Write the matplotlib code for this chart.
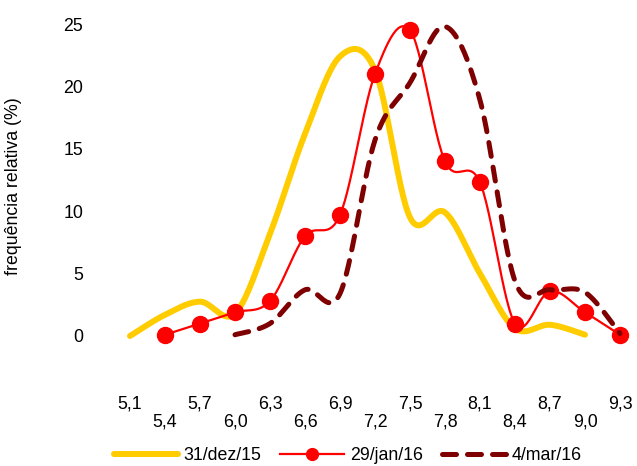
import numpy as np
import matplotlib
matplotlib.use("Agg")
import matplotlib.pyplot as plt
from matplotlib.lines import Line2D

plt.rcParams['font.family'] = ['Liberation Sans', 'DejaVu Sans']

categorias = ['5,1', '5,4', '5,7', '6,0', '6,3', '6,6', '6,9', '7,2',
              '7,5', '7,8', '8,1', '8,4', '8,7', '9,0', '9,3']
dez15 = [0.0, 1.7, 2.75, 1.8, 8.2, 16.2, 22.4, 21.3, 9.5, 9.9, 5.0, 0.6, 0.9, 0.1, None]
jan16 = [None, 0.1, 1.0, 1.9, 2.8, 8.0, 9.7, 21.0, 24.5, 14.0, 12.3, 1.0, 3.6, 1.9, 0.1]
mar16 = [None, None, None, 0.1, 1.0, 3.7, 3.4, 15.7, 20.3, 24.8, 18.9, 4.4, 3.7, 3.5, 0.2]
nomes = ['31/dez/15', '29/jan/16', '4/mar/16']

FS = 12.8


def suaviza(ys, n=30):
    # curva suavizada tipo Excel (Bezier / Catmull-Rom) pelos pontos
    pts = [(i, y) for i, y in enumerate(ys) if y is not None]
    p = np.array(pts, dtype=float)
    xs_out, ys_out = [], []
    for i in range(len(p) - 1):
        p0 = p[i - 1] if i > 0 else p[i]
        p1 = p[i]
        p2 = p[i + 1]
        p3 = p[i + 2] if i + 2 < len(p) else p[i + 1]
        c1 = p1 + (p2 - p0) / 6.
        c2 = p2 - (p3 - p1) / 6.
        t = np.linspace(0, 1, n)[:, None]
        b = ((1 - t) ** 3) * p1 + 3 * ((1 - t) ** 2) * t * c1 + 3 * (1 - t) * t ** 2 * c2 + t ** 3 * p2
        xs_out.extend(b[:, 0])
        ys_out.extend(b[:, 1])
    return np.array(xs_out), np.array(ys_out)


fig = plt.figure(figsize=(6.37, 4.66), dpi=100)
ax = fig.add_axes([112.5 / 637, 76 / 466, 525 / 637, 378 / 466])

x1, y1 = suaviza(dez15)
ax.plot(x1, y1, color='#FFCC00', lw=4.3, solid_capstyle='round', clip_on=False)

x2, y2 = suaviza(jan16)
ax.plot(x2, y2, color='#FF0000', lw=1.6, clip_on=False)
idx = [i for i, v in enumerate(jan16) if v is not None]
ax.plot(idx, [jan16[i] for i in idx], 'o', color='#FF0000', ms=11.5, clip_on=False)

x3, y3 = suaviza(mar16)
ax.plot(x3, y3, color='#7F0000', lw=3.6, dashes=(2.8, 2.2), dash_capstyle='round',
        clip_on=False)

ax.set_xlim(-0.5, len(categorias) - 0.5)
ax.set_ylim(-(390 - 336) / 12.48, 25 + 12 / 12.48)
ax.set_yticks([0, 5, 10, 15, 20, 25])
ax.set_yticklabels(['0', '5', '10', '15', '20', '25'])

pares = list(range(0, len(categorias), 2))
impares = list(range(1, len(categorias), 2))
ax.set_xticks(pares)
ax.set_xticklabels([categorias[i] for i in pares])
ax.set_xticks(impares, minor=True)
ax.set_xticklabels([categorias[i] for i in impares], minor=True)
ax.tick_params(axis='x', which='major', length=0, pad=4.3, labelsize=FS)
ax.tick_params(axis='x', which='minor', length=0, pad=16.6, labelsize=FS)
ax.tick_params(axis='y', length=0, pad=21, labelsize=FS)

for s in ax.spines.values():
    s.set_visible(False)

ax.set_ylabel('frequência relativa (%)', fontsize=FS)
ax.yaxis.set_label_coords((22.5 - 112.5) / 525, (390 - 186.5) / 378)

h = [Line2D([], [], color='#FFCC00', lw=4.3, solid_capstyle='round'),
     Line2D([], [], color='#FF0000', lw=1.6, marker='o', ms=8.5),
     Line2D([], [], color='#7F0000', lw=3.6, dashes=(2.8, 2.2), dash_capstyle='round')]
fig.legend(h, nomes, loc='center', bbox_to_anchor=(347.5 / 637, 10 / 466), ncol=3,
           frameon=False, fontsize=FS, handlelength=3.6, handletextpad=0.3,
           columnspacing=1.1, borderpad=0, borderaxespad=0)

fig.savefig('out.png', dpi=100)
